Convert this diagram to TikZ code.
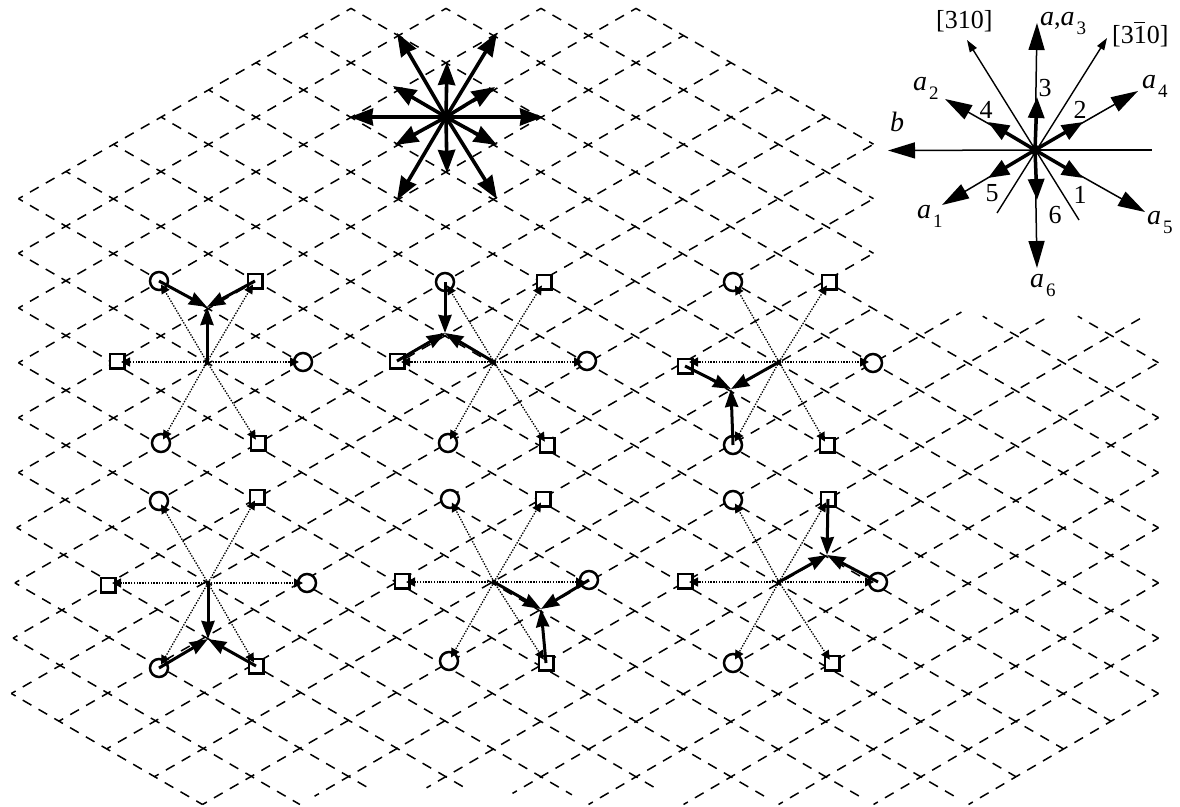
\documentclass[tikz,border=0pt]{standalone}
\usepackage{fontspec}
\setmainfont{Liberation Serif}
\usetikzlibrary{arrows.meta}
\newcommand\latpt[3]{%
  \pgfmathsetmacro\latK{(#2)+(#3)}%
  \pgfmathsetmacro\latL{(#2)-(#3)}%
  \pgfmathsetmacro\latDX{(\latK<0)*(\latL>13)*0.1*(\latL-13)*(\latK)}%
  \pgfmathsetmacro\latX{446+47.5*(\latK)+\latDX}%
  \pgfmathsetmacro\latY{117+27.2*(\latL)+0.012*(\latL)*(\latL)}%
  \coordinate (#1) at (\latX,\latY);}
\newcommand\asub[1]{{\fontsize{28}{28}\selectfont\itshape a}\hspace{2pt}\raisebox{-9pt}{\fontsize{19}{19}\selectfont #1}}
\tikzset{
  gridline/.style={line width=1.5pt,dash pattern=on 10pt off 8.24pt,dash phase=5pt,black},
  circsym/.style={circle,draw,line width=2.5pt,fill=white,minimum size=18pt,inner sep=0pt},
  squaresym/.style={rectangle,draw,line width=2.5pt,fill=white,minimum size=14.5pt,inner sep=0pt},
  dotarrow/.style={line width=1.3pt,dash pattern=on 1.4pt off 1.4pt,shorten >=4pt,
     -{Stealth[length=9pt,width=9pt,inset=0pt,sep=0pt]}},
  heavy/.style={line width=3pt,-{Stealth[length=18pt,width=13pt,inset=1pt]}},
  bigheavy/.style={line width=3.6pt,-{Stealth[length=23pt,width=17pt,inset=1pt]}},
  thinout/.style={line width=1.5pt,-{Stealth[length=27pt,width=16pt,inset=0pt]}},
  thinmil/.style={line width=1.4pt,-{Stealth[length=12pt,width=8pt,inset=0pt]}},
  inner/.style={line width=3.5pt,-{Stealth[length=21pt,width=16pt,inset=0pt]}},
  lab/.style={inner sep=0pt,font=\fontsize{26}{26}\selectfont},
  labb/.style={lab,anchor=base west},
  hub/.style={circle,fill=black,inner sep=0pt,minimum size=5pt}
}
\begin{document}
\begin{tikzpicture}[x=1pt,y=-1pt]
\useasboundingbox (0,0) rectangle (1180,806);
\fill[white] (0,0) rectangle (1180,806);
% lattice: lines of constant a (rising to the right)
\foreach \a/\bA/\bB in {-3/-6/1,-2/-7/2,-1/-8/3,0/-9/4,1/-10/4,2/-11/4,3/-12/4,4/-13/4,5/-14/4,
  6/-15/3,7/-15/2,8/-15/1,9/-15/1.85,10/-15/2.67,11/-13.7/3.7,12/-12.4/3,13/-11.6/2,14/-11/1,
  15/-10/0,16/-9/-1,17/-8/-2,18/-7/-3}{
  \latpt{p}{\a}{\bA}\latpt{q}{\a}{\bB}
  \draw[gridline] (p) -- (q);
}
% lattice: lines of constant b (falling to the right)
\foreach \b/\aA/\aB in {-15/6/10,-14/5/11,-13/4/11.4,-12/3/12.4,-11/2/13.65,-10/1/14.45,-9/0/15.7,-8/-1/16.8,
  -7/-2/17.8,-6/-3/18,-5/-3/18,-4/-3/18,-3/-3/18,-2/-3/17,-1/-3/16,0/-3/15,1/-3/14,
  2/-2/7,2/9.3/13,3/-1/6,3/10.3/12,4/0/5}{
  \latpt{p}{\aA}{\b}\latpt{q}{\aB}{\b}
  \draw[gridline] (p) -- (q);
}
% top star
\coordinate (T) at (446,117);
\foreach \x/\y in {350/117,543/117,447/62,447/173,397/33,497/33,397/200,497/199,393/86,495/87,395/145,497/145}{
  \coordinate (tt) at (\x,\y);
  \draw[bigheavy] (T) -- (tt);
}
\node[hub,minimum size=12pt] at (T) {};
% small stars: symbols
\foreach \nm/\sty/\px/\py in {
  a1/circsym/159/281,a2/squaresym/255/281,a3/squaresym/117/361,a4/circsym/303/362,a5/circsym/161/443,a6/squaresym/258/443,
  b1/circsym/445/282,b2/squaresym/544/282,b3/squaresym/397/361,b4/circsym/587/361,b5/circsym/448/443,b6/squaresym/547/445,
  d1/circsym/733/282,d2/squaresym/829/282,d3/squaresym/685/366,d4/circsym/873/363,d5/circsym/733/445,d6/squaresym/827/445,
  e1/circsym/159/501,e2/squaresym/257/497,e3/squaresym/108/585,e4/circsym/307/583,e5/circsym/159/668,e6/squaresym/256/666,
  f1/circsym/450/499,f2/squaresym/543/499,f3/squaresym/402/581,f4/circsym/589/580,f5/circsym/449/661,f6/squaresym/546/663,
  g1/circsym/733/500,g2/squaresym/828/499,g3/squaresym/685/581,g4/circsym/878/582,g5/circsym/733/663,g6/squaresym/832/663}{
  \node[\sty] (\nm) at (\px,\py) {};
}
\foreach \nm/\px/\py/\jx/\jy in {a/207/362/207/307,b/494/362/445/333,d/779/362/731/389,
  e/208/583/208/639,f/494/582/541/609,g/779/582/827/555}{
  \coordinate (c\nm) at (\px,\py);
  \coordinate (j\nm) at (\jx,\jy);
  \foreach \i in {1,2,5,6}{\draw[dotarrow] (c\nm) -- (\nm\i.center);}
  \foreach \i in {3,4}{\draw[dotarrow] (c\nm) -- (\nm\i.center |- c\nm);}
  \node[hub,minimum size=5pt] at (c\nm) {};
  \draw[heavy] (c\nm) -- (j\nm);
}
\foreach \s/\j in {a1/a,a2/a,b1/b,b3/b,d3/d,d5/d,e5/e,e6/e,f4/f,f6/f,g2/g,g4/g}{
  \draw[heavy] (\s.center) -- (j\j);
}
% inset
\coordinate (I) at (1035,150);
\coordinate (Ib) at (888,150.5);
\coordinate (Ir) at (1152,150);
\coordinate (Ia) at (1037,23);
\coordinate (Ia2) at (945,99);
\coordinate (Ia4) at (1138,91);
\coordinate (Ia1) at (942,205);
\coordinate (Ia5) at (1145,212);
\coordinate (Ia6) at (1037,268);
\coordinate (Im1) at (967,40);
\coordinate (Im1e) at (1079,220);
\coordinate (Im2) at (1107,38);
\coordinate (Im2e) at (997,213);
\coordinate (In3) at (1037,97);
\coordinate (In4) at (988,122);
\coordinate (In2) at (1083,122);
\coordinate (In5) at (988,178);
\coordinate (In1) at (1083,178);
\coordinate (In6) at (1037,200);
\draw[line width=1.4pt] (I) -- (Ir);
\draw[thinout] (I) -- (Ib);
\foreach \t in {Ia,Ia2,Ia4,Ia1,Ia5,Ia6}{\draw[thinout] (I) -- (\t);}
\draw[thinmil] (Im1e) -- (Im1);
\draw[thinmil] (Im2e) -- (Im2);
\foreach \t in {In3,In4,In2,In5,In1,In6}{\draw[inner] (I) -- (\t);}
\node[hub,minimum size=11pt] at (I) {};
% inset labels
\node[labb] (l310) at (936,28) {[310]};
\node[labb] (l3b10) at (1112,43) {[3\rlap{\raisebox{20pt}{\rule{11pt}{1.2pt}}}10]};
\node[labb] (laa3) at (1040,25) {{\fontsize{28}{28}\selectfont\itshape a},\asub{3}};
\node[labb] (la2) at (913,90) {\asub{2}};
\node[labb] (la4) at (1142,88) {\asub{4}};
\node[labb] (la5) at (1147,224) {\asub{5}};
\node[labb] (la1) at (917,218) {\asub{1}};
\node[labb] (la6) at (1030,287) {\asub{6}};
\node[lab,font=\fontsize{28}{28}\selectfont\itshape] (lb) at (897,122) {b};
\node[lab] (n3) at (1045,88) {3};
\node[lab] (n4) at (986,110) {4};
\node[lab] (n2) at (1080,110) {2};
\node[lab] (n1) at (1080,195) {1};
\node[lab] (n5) at (992,193) {5};
\node[lab] (n6) at (1055,215) {6};
\end{tikzpicture}
\end{document}
